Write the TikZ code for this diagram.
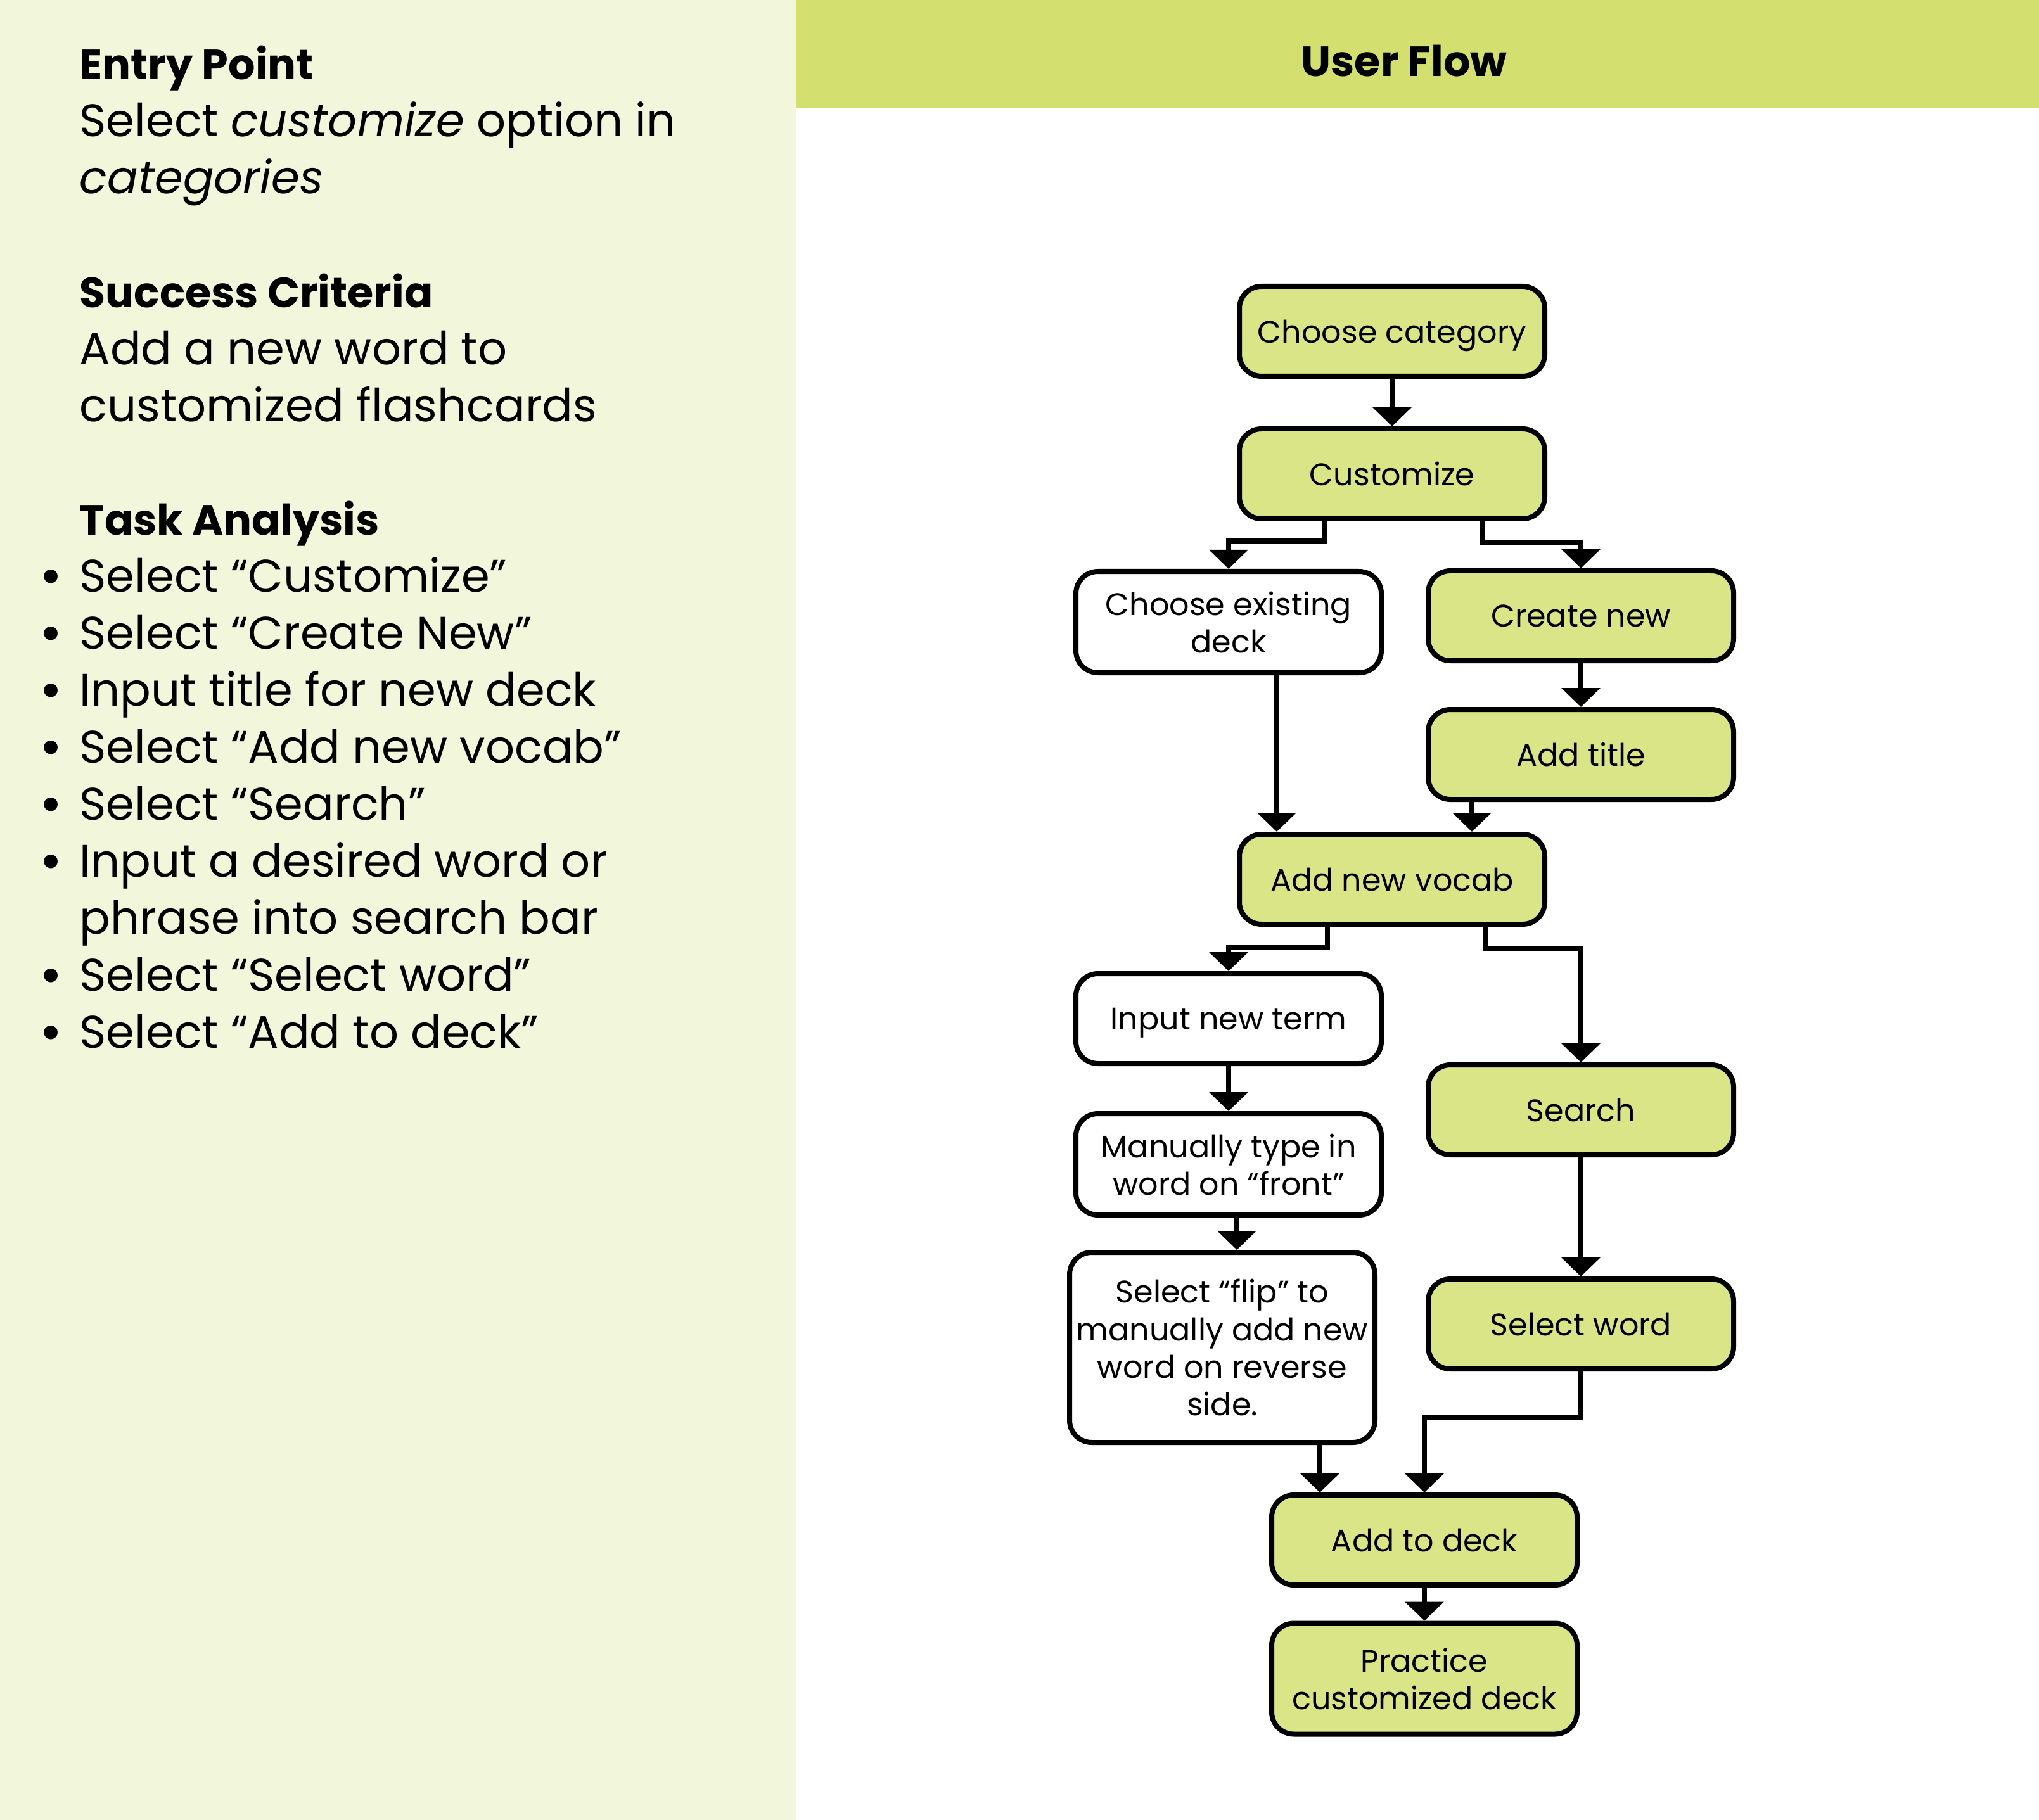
\documentclass[tikz,border=0pt]{standalone}
\usepackage{fontspec}
\setmainfont{Poppins}
\usetikzlibrary{arrows.meta}

\definecolor{panelgreen}{RGB}{242,246,218}
\definecolor{headgreen}{RGB}{211,224,112}
\definecolor{boxgreen}{RGB}{217,229,135}

\newcommand{\boxfont}{\fontsize{14}{16.9}\selectfont}
\newcommand{\sidefont}{\fontsize{20.5}{25.6}\selectfont}
\newcommand{\sidehead}[1]{{\fontsize{19}{25.6}\selectfont\bfseries #1}}
\newcommand{\tabullet}{\llap{\raisebox{-0.06em}{\fontsize{25}{25.6}\selectfont\textbullet}\hspace{0.27cm}}}

\tikzset{
  stepgreen/.style={draw, rectangle, line width=0.08cm, rounded corners=0.35cm, fill=boxgreen,
    minimum width=4.82cm, minimum height=1.42cm, align=center, inner sep=2pt, text depth=0pt, font=\boxfont},
  stepwhite/.style={stepgreen, fill=white},
  flow/.style={-{Triangle[width=0.6cm,length=0.3cm]}, line width=0.075cm}
}

\begin{document}
\begin{tikzpicture}
 \useasboundingbox (0,0) rectangle (32.18,-28.73);
 \fill[white] (0,0) rectangle (32.18,-28.73);
 \fill[panelgreen] (0,0) rectangle (12.56,-28.73);
 \fill[headgreen] (12.56,0) rectangle (32.18,-1.70);

 % side panel
 \node (sidetext) [anchor=north west, inner sep=0pt, align=left, font=\sidefont] at (1.25,-0.71) {%
  \sidehead{Entry Point}\\
  Select \textit{customize} option in\\
  \textit{categories}\\[25.6pt]
  \sidehead{Success Criteria}\\
  Add a new word to\\
  customized flashcards\\[25.6pt]
  \sidehead{Task Analysis}\\
  \tabullet Select “Customize”\\
  \tabullet Select “Create New”\\
  \tabullet Input title for new deck\\
  \tabullet Select “Add new vocab”\\
  \tabullet Select “Search”\\
  \tabullet Input a desired word or\\
  phrase into search bar\\
  \tabullet Select “Select word”\\
  \tabullet Select “Add to deck”};

 \node (userflow) [font=\fontsize{19}{25.6}\selectfont\bfseries] at (22.16,-0.96) {User Flow};

 % flow boxes
 \node (choosecat) [stepgreen] at (21.97,-5.23) {Choose category};
 \node (customize) [stepgreen] at (21.97,-7.48) {Customize};
 \node (existing) [stepwhite, minimum height=1.6cm] at (19.39,-9.82) {Choose existing\\deck};
 \node (createnew) [stepgreen] at (24.95,-9.72) {Create new};
 \node (addtitle) [stepgreen] at (24.95,-11.91) {Add title};
 \node (addvocab) [stepgreen] at (21.97,-13.88) {Add new vocab};
 \node (inputterm) [stepwhite] at (19.39,-16.08) {Input new term};
 \node (search) [stepgreen] at (24.95,-17.52) {Search};
 \node (manual) [stepwhite, minimum height=1.6cm] at (19.39,-18.38) {Manually type in\\word on “front”};
 \node (flip) [stepwhite, minimum height=3.0cm] at (19.29,-21.27) {Select “flip” to\\manually add new\\word on reverse\\side.};
 \node (selectword) [stepgreen] at (24.95,-20.90) {Select word};
 \node (addtodeck) [stepgreen] at (22.48,-24.31) {Add to deck};
 \node (practice) [stepgreen, minimum height=1.75cm] at (22.48,-26.50) {Practice\\customized deck};

 % connectors
 \draw[flow] (choosecat) -- (customize);
 \draw[flow] ([xshift=-1.06cm]customize.south) -- ++(0,-0.31) -| (existing.north);
 \draw[flow] ([xshift=1.43cm]customize.south) -- ++(0,-0.33) -| (createnew.north);
 \draw[flow] (createnew) -- (addtitle);
 \draw[flow] ([xshift=0.76cm]existing.south) -- ([xshift=0.76cm]existing.south |- addvocab.north);
 \draw[flow] ([xshift=-1.72cm]addtitle.south) -- ([xshift=-1.72cm]addtitle.south |- addvocab.north);
 \draw[flow] ([xshift=-1.02cm]addvocab.south) -- ++(0,-0.33) -| (inputterm.north);
 \draw[flow] ([xshift=1.47cm]addvocab.south) -- ++(0,-0.35) -| (search.north);
 \draw[flow] (inputterm) -- (manual);
 \draw[flow] ([xshift=0.13cm]manual.south) -- ([xshift=0.13cm]manual.south |- flip.north);
 \draw[flow] (search) -- (selectword);
 \draw[flow] ([xshift=1.54cm]flip.south) -- ([xshift=1.54cm]flip.south |- addtodeck.north);
 \draw[flow] (selectword.south) -- ++(0,-0.72) -| (addtodeck.north);
 \draw[flow] (addtodeck) -- (practice);
\end{tikzpicture}
\end{document}
